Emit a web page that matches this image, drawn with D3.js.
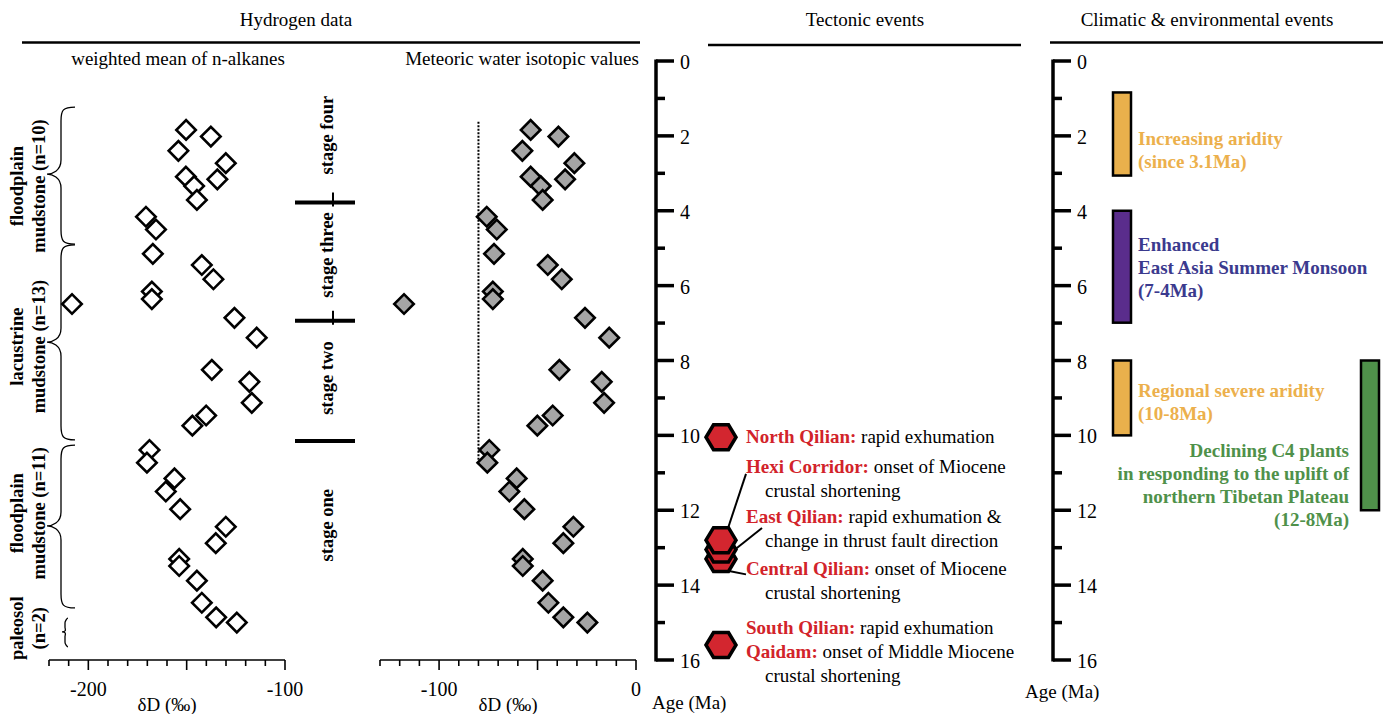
<!DOCTYPE html>
<html><head><meta charset="utf-8">
<script src="https://cdn.jsdelivr.net/npm/d3@7/dist/d3.min.js"></script>
<style>
body{margin:0;background:#fff;}
svg{display:block;font-family:"Liberation Serif","Times New Roman",serif;}
</style></head>
<body>
<svg id="c" width="1386" height="714"></svg>
<script>
// ---------- DATA ----------
const ages = [1.84,2.02,2.40,2.73,3.09,3.16,3.34,3.71,4.16,4.50,
  5.15,5.45,5.83,6.16,6.36,6.49,6.86,7.39,8.25,8.57,9.13,9.47,9.74,
  10.39,10.73,11.15,11.50,11.97,12.44,12.88,13.30,13.49,13.88,14.47,
  14.86,15.00];
const alkaneD = [-150.3,-137.7,-154.2,-130.1,-150.4,-134.4,-146.2,-144.8,-170.7,-165.6,
  -167.2,-142.3,-136.4,-167.7,-167.7,-208.3,-125.7,-114.4,-137.2,-118.1,-116.9,-140.1,-147.1,
  -168.9,-170.2,-156.2,-160.6,-153.3,-130.1,-135.2,-153.8,-153.8,-144.8,-142.3,
  -135.0,-124.5];
const meteoricD = [-53.5,-39.4,-57.7,-31.3,-53.5,-36.0,-48.4,-47.4,-75.8,-70.7,
  -72.1,-44.8,-37.7,-72.7,-72.7,-117.8,-25.9,-13.6,-38.9,-17.4,-16.2,-42.3,-50.1,
  -74.5,-75.5,-60.6,-64.3,-56.7,-31.8,-36.9,-57.5,-57.5,-47.4,-44.5,
  -36.9,-24.7];
const leftTickLabels = [-200,-100];
const midTickLabels = [-100,0];
const ageTickLabels = [0,2,4,6,8,10,12,14,16];
const meteoricThreshold = -80;
const thresholdAges = [1.62,10.66];

const lithoNames = [["floodplain","mudstone (n=10)"],["lacustrine","mudstone (n=13)"],["floodplain","mudstone (n=11)"],["paleosol","(n=2)"]];
const lithoTop = [1.23,4.91,10.26,14.88];
const lithoMid = [3.02,7.51,12.42,15.25];
const lithoBot = [4.89,10.12,14.61,15.65];
const lithoTextAge = [3.34,7.63,12.08,15.15];

const stageNames = ["stage four","stage three","stage two","stage one"];
const stageTextAge = [1.98,5.18,8.47,12.40];
const stageBoundaries = [3.78,6.94,10.15];

const hexAges = [10.05,13.3,13.05,12.8,15.6];

const tectonicEvents = [
  {place:"North Qilian:", text:" rapid exhumation", line2:null, age:10.2},
  {place:"Hexi Corridor:", text:" onset of Miocene", line2:"crustal shortening", age:11.0},
  {place:"East Qilian:", text:" rapid exhumation &", line2:"change in thrust fault direction", age:12.34},
  {place:"Central Qilian:", text:" onset of Miocene", line2:"crustal shortening", age:13.74},
  {place:"South Qilian:", text:" rapid exhumation", line2:null, age:15.30},
  {place:"Qaidam:", text:" onset of Middle Miocene", line2:"crustal shortening", age:15.94}
];

const climBars = [
  {from:0.84,to:3.06,col:"#e9b04c",lane:0},
  {from:4.0,to:6.99,col:"#5a2d8c",lane:0},
  {from:8.0,to:10.0,col:"#e9b04c",lane:0},
  {from:8.0,to:12.0,col:"#4f914a",lane:1}
];
const climTexts = [
  {lines:["Increasing aridity","(since 3.1Ma)"], age:2.24, col:"#ecb04c", anchor:"start"},
  {lines:["Enhanced","East Asia Summer Monsoon","(7-4Ma)"], age:5.07, col:"#3b3a8e", anchor:"start"},
  {lines:["Regional severe aridity","(10-8Ma)"], age:8.98, col:"#ecb04c", anchor:"start"},
  {lines:["Declining C4 plants","in responding to the uplift of","northern Tibetan Plateau","(12-8Ma)"], age:10.58, col:"#4f914a", anchor:"end"}
];

// ---------- SCALES ----------
const svg = d3.select("#c");
const yAge = d3.scaleLinear().domain([0,16]).range([61,660]);
const xL = d3.scaleLinear().domain([-220,-100]).range([49,285]);
const xM = d3.scaleLinear().domain([-130,0]).range([380,636]);
const FS = 19;
const RFS = 18.5;

// ---------- HEADINGS ----------
function txt(x,y,s,opt={}){
  return svg.append("text").attr("x",x).attr("y",y).text(s)
    .attr("font-size",opt.fs||FS).attr("text-anchor",opt.anchor||"middle")
    .attr("font-weight",opt.bold?"bold":"normal").attr("fill",opt.fill||"#000");
}
txt(296,26,"Hydrogen data");
txt(865,26,"Tectonic events");
txt(1207,26,"Climatic & environmental events");
svg.append("line").attr("x1",22).attr("x2",640).attr("y1",42.5).attr("y2",42.5).attr("stroke","#000").attr("stroke-width",2.5);
svg.append("line").attr("x1",708).attr("x2",1021).attr("y1",45).attr("y2",45).attr("stroke","#000").attr("stroke-width",2.5);
svg.append("line").attr("x1",1050).attr("x2",1383).attr("y1",42.5).attr("y2",42.5).attr("stroke","#000").attr("stroke-width",2.5);
txt(178,65,"weighted mean of n-alkanes");
txt(522,65,"Meteoric water isotopic values");

// ---------- X AXES ----------
function xAxis(scale, labels){
  const g = svg.append("g").attr("transform","translate(0,660)");
  g.append("line").attr("x1",scale.range()[0]).attr("x2",scale.range()[1]).attr("stroke","#000").attr("stroke-width",1.6);
  const d = scale.domain();
  const ticks = d3.range(d[0], d[1]+0.1, 10);
  g.selectAll("line.t").data(ticks).join("line").attr("class","t")
    .attr("x1",v=>scale(v)).attr("x2",v=>scale(v)).attr("y1",0)
    .attr("y2",v=>(Math.round(v)%50===0)?10:6).attr("stroke","#000").attr("stroke-width",1.6);
  g.selectAll("text").data(labels).join("text").attr("x",v=>scale(v)).attr("y",36)
    .attr("text-anchor","middle").attr("font-size",20).text(v=>v);
}
xAxis(xL,leftTickLabels);
xAxis(xM,midTickLabels);
txt(167,711,"δD (‰)");
txt(508,711,"δD (‰)");

// ---------- AGE AXES ----------
function ageAxis(x){
  const g = svg.append("g");
  g.append("line").attr("x1",x).attr("x2",x).attr("y1",yAge(0)-1.5).attr("y2",yAge(16)+1.5).attr("stroke","#000").attr("stroke-width",3.5);
  g.selectAll("line.t").data(d3.range(0,17,1)).join("line").attr("class","t")
    .attr("x1",x).attr("x2",v=>x+(v%2===0?18:9)).attr("y1",v=>yAge(v)).attr("y2",v=>yAge(v))
    .attr("stroke","#000").attr("stroke-width",3.5);
  g.selectAll("text").data(ageTickLabels).join("text").attr("x",x+24).attr("y",v=>yAge(v)+8)
    .attr("font-size",20).text(v=>v);
}
ageAxis(656);
ageAxis(1053);
txt(652,709,"Age (Ma)",{anchor:"start"});
txt(1025,698,"Age (Ma)",{anchor:"start"});

// ---------- LITHOLOGY BRACES ----------
function brace(xr,xs,xt,top,mid,bot){
  const t=yAge(top), m=yAge(mid), b=yAge(bot);
  const c=Math.min(14,(m-t)/3);
  return `M${xr},${t} C${xs+2},${t} ${xs},${t+3} ${xs},${t+c} L${xs},${m-c} C${xs},${m-3} ${xt+5},${m} ${xt},${m}`+
         ` C${xt+5},${m} ${xs},${m+3} ${xs},${m+c} L${xs},${b-c} C${xs},${b-3} ${xs+2},${b} ${xr},${b}`;
}
lithoNames.forEach((nm,i)=>{
  const small = i===3;
  svg.append("path").attr("d", small? brace(68,65,62,lithoTop[i],lithoMid[i],lithoBot[i]) : brace(75,61,47,lithoTop[i],lithoMid[i],lithoBot[i]))
    .attr("fill","none").attr("stroke","#000").attr("stroke-width",1.3);
  const yy = yAge(lithoTextAge[i]);
  [23,45].forEach((bx,k)=>{
    svg.append("text").attr("transform",`translate(${bx},${yy}) rotate(-90)`)
      .attr("text-anchor","middle").attr("font-size",RFS).attr("font-weight","bold").text(nm[k]);
  });
});

// ---------- STAGES ----------
stageNames.forEach((s,i)=>{
  svg.append("text").attr("transform",`translate(333,${yAge(stageTextAge[i])}) rotate(-90)`)
    .attr("text-anchor","middle").attr("font-size",RFS).attr("font-weight","bold").text(s);
});
svg.selectAll("line.stage").data(stageBoundaries).join("line").attr("class","stage")
  .attr("x1",295).attr("x2",355).attr("y1",d=>yAge(d)).attr("y2",d=>yAge(d))
  .attr("stroke","#000").attr("stroke-width",4);
svg.selectAll("line.stagev").data(stageBoundaries.slice(0,2)).join("line").attr("class","stagev")
  .attr("x1",333).attr("x2",333).attr("y1",d=>yAge(d)-10).attr("y2",d=>yAge(d)+4)
  .attr("stroke","#000").attr("stroke-width",2);

// ---------- DIAMONDS ----------
const diamond = d3.symbol().type(d3.symbolSquare).size(190)();
svg.append("g").selectAll("path").data(ages).join("path")
  .attr("d",diamond).attr("transform",(a,i)=>`translate(${xL(alkaneD[i])},${yAge(a)}) rotate(45)`)
  .attr("fill","#fff").attr("stroke","#000").attr("stroke-width",2.6);
svg.append("line").attr("x1",xM(meteoricThreshold)).attr("x2",xM(meteoricThreshold))
  .attr("y1",yAge(thresholdAges[0])).attr("y2",yAge(thresholdAges[1]))
  .attr("stroke","#000").attr("stroke-width",2).attr("stroke-dasharray","2,1.5");
svg.append("g").selectAll("path").data(ages).join("path")
  .attr("d",diamond).attr("transform",(a,i)=>`translate(${xM(meteoricD[i])},${yAge(a)}) rotate(45)`)
  .attr("fill","#a5a5a5").attr("stroke","#000").attr("stroke-width",2.6);

// ---------- TECTONIC EVENTS ----------
const hx=721;
const hexPath = "M-15,0 L-7.5,-12.5 L7.5,-12.5 L15,0 L7.5,12.5 L-7.5,12.5 Z";
const textX = 746, lh = 24;
const evY = tectonicEvents.map(e=>yAge(e.age));
svg.append("line").attr("x1",hx+7).attr("y1",yAge(12.8)-12).attr("x2",textX).attr("y2",evY[1]+1).attr("stroke","#000").attr("stroke-width",2);
svg.append("line").attr("x1",hx+14).attr("y1",yAge(13.05)).attr("x2",textX+16).attr("y2",evY[2]+5).attr("stroke","#000").attr("stroke-width",2);
svg.append("line").attr("x1",hx+8).attr("y1",yAge(13.3)+12).attr("x2",textX).attr("y2",evY[3]-1).attr("stroke","#000").attr("stroke-width",2);
svg.append("g").selectAll("path").data(hexAges).join("path")
  .attr("d",hexPath).attr("transform",a=>`translate(${hx},${yAge(a)})`)
  .attr("fill","#d3262f").attr("stroke","#000").attr("stroke-width",3.5).attr("stroke-linejoin","miter");
tectonicEvents.forEach((e,i)=>{
  const y = yAge(e.age);
  const t = svg.append("text").attr("x",textX).attr("y",y).attr("font-size",FS);
  t.append("tspan").attr("font-weight","bold").attr("fill","#d2232a").text(e.place);
  t.append("tspan").text(e.text);
  if(e.line2) svg.append("text").attr("x",textX+19).attr("y",y+lh).attr("font-size",FS).text(e.line2);
});

// ---------- CLIMATE ----------
const laneX=[1113,1361], bw=18;
svg.selectAll("rect.cb").data(climBars).join("rect").attr("class","cb")
  .attr("x",d=>laneX[d.lane]).attr("width",bw).attr("y",d=>yAge(d.from)).attr("height",d=>yAge(d.to)-yAge(d.from))
  .attr("fill",d=>d.col).attr("stroke","#000").attr("stroke-width",2.5);
climTexts.forEach(c=>{
  c.lines.forEach((l,k)=>{
    svg.append("text").attr("x",c.anchor==="start"?1138:1349).attr("y",yAge(c.age)+k*23)
      .attr("text-anchor",c.anchor).attr("font-size",FS).attr("font-weight","bold").attr("fill",c.col).text(l);
  });
});
</script>
</body></html>
